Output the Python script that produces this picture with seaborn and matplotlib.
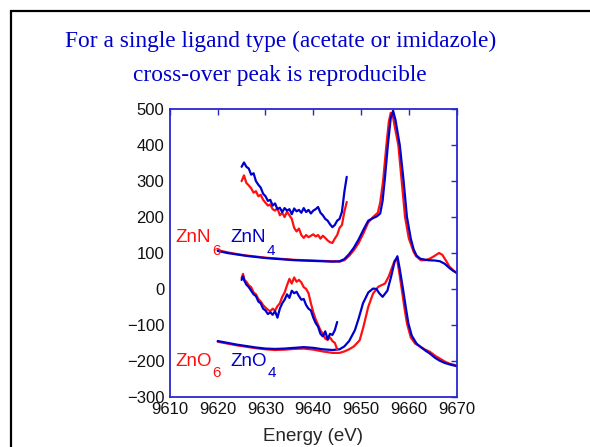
import pandas as pd
import matplotlib.pyplot as plt
import seaborn as sns
from matplotlib.patches import Rectangle

# ZnN main spectra (energy in eV, intensity)
znn_e_red = [9620, 9622, 9624, 9626, 9628, 9630, 9632, 9634, 9636, 9638, 9640, 9642, 9644,
             9645.5, 9646.5, 9647.5, 9648.5, 9649.5, 9650.5, 9651.5, 9652.5, 9653.5, 9654.0,
             9654.6, 9655.3, 9655.8, 9656.2, 9656.6, 9657.0, 9657.8, 9658.5, 9659.2, 9660.0,
             9660.5, 9661.0, 9661.5, 9662.5, 9663.5, 9664.5, 9665.5, 9666.3,
             9667.0, 9667.8, 9668.5, 9669.3, 9670]
znn6_main = [108, 102, 97, 93, 90, 87, 85, 83, 81, 80, 79, 78, 77,
             76, 80, 92, 108, 128, 155, 185, 200, 212, 240,
             300, 400, 465, 490, 485, 455, 400, 300, 200, 140,
             122, 103, 91, 80, 80, 85, 93, 100,
             95, 78, 62, 52, 44]

znn_e_blue = [9620, 9622, 9624, 9626, 9628, 9630, 9632, 9634, 9636, 9638, 9640, 9642, 9644,
              9645.5, 9646.5, 9647.5, 9648.5, 9649.5, 9650.5, 9651.5, 9652.5, 9653.3, 9654.0,
              9654.5, 9655.0, 9655.6, 9656.2, 9656.7, 9657.2, 9658.1, 9658.9, 9659.6, 9660.4,
              9661.0, 9661.6, 9662.4, 9664, 9665.5, 9666.5, 9667.5,
              9668.5, 9669.3, 9670]
znn4_main = [106, 100, 96, 92, 89, 86, 84, 82, 80, 79, 78, 77, 76,
             77, 83, 97, 115, 138, 165, 190, 197, 202, 210,
             245, 310, 400, 475, 496, 470, 400, 300, 200, 140,
             110, 93, 84, 80, 79, 77, 70,
             58, 50, 45]

# ZnO main spectra
zno_e_blue = [9620, 9622, 9624, 9626, 9628, 9630, 9632, 9634, 9636, 9638, 9640, 9642, 9644,
              9645.5, 9646.5, 9647.5, 9648.7, 9649.5, 9650.4, 9651.5, 9652.5, 9653.2, 9653.8,
              9654.5, 9655.5, 9656.3, 9657, 9657.6, 9658.1, 9658.8, 9659.4, 9659.9,
              9660.6, 9661.6, 9662.5, 9663.5, 9664.4, 9665.5, 9666.5, 9667.5, 9668.5, 9670]
zno4_main = [-145, -150, -155, -159, -163, -166, -167, -166, -164, -162, -164, -168, -170,
             -168, -160, -145, -115, -82, -40, -10, 1, 0, -12,
             -22, -5, 35, 75, 91, 55, -3, -55, -96,
             -130, -152, -162, -172, -180, -192, -200, -206, -210, -215]

zno_e_red = [9620, 9622, 9624, 9626, 9628, 9630, 9632, 9634, 9636, 9638, 9640, 9642, 9644,
             9645.5, 9646.5, 9647.5, 9648.5, 9649.7, 9650.5, 9651.5, 9652.5, 9653.6, 9655,
             9655.8, 9656.4, 9657, 9657.5, 9658, 9658.5, 9659.1, 9659.6,
             9660.4, 9661.3, 9662.3, 9663.3, 9664.4, 9665.5, 9666.5, 9667.5, 9668.5, 9670]
zno6_main = [-147, -152, -157, -161, -165, -168, -170, -169, -167, -166, -169, -174, -178,
             -178, -174, -168, -160, -143, -105, -50, -13, 6, 15,
             35, 57, 78, 85, 45, 0, -55, -96,
             -135, -152, -160, -168, -175, -186, -194, -202, -208, -213]

# pre-edge (magnified) traces
pre_e_n = [9625 + 0.5 * i for i in range(45)]
znn4_pre = [340, 352, 340, 335, 318, 322, 300, 290, 282, 265, 258, 245, 248, 232, 238,
            222, 226, 214, 225, 218, 222, 208, 224, 216, 220, 212, 225, 214, 220, 210,
            218, 222, 228, 212, 205, 195, 190, 180, 172, 178, 190, 195, 215, 270, 312]
znn6_pre = [300, 316, 295, 288, 280, 268, 272, 258, 262, 248, 240, 232, 235, 222, 218,
            225, 205, 212, 200, 215, 205, 195, 170, 160, 168, 150, 142, 150, 144, 148,
            152, 146, 150, 140, 148, 142, 135, 130, 128, 140, 150, 170, 178, 215, 242]

pre_e_o = [9625, 9625.3, 9625.6, 9626, 9626.5, 9627, 9627.5, 9628, 9628.5, 9629, 9629.5,
           9630, 9630.5, 9631, 9631.5, 9632, 9632.5, 9633, 9633.5, 9634, 9634.5, 9635,
           9635.5, 9636, 9636.5, 9637, 9637.5, 9638, 9638.5, 9639, 9639.5, 9640, 9640.5,
           9641, 9641.5, 9642, 9642.5, 9643, 9643.5, 9644, 9644.5, 9645]
zno6_pre = [30, 42, 25, 20, 10, 5, -10, -15, -28, -35, -45,
            -52, -58, -62, -55, -60, -48, -40, -22, -10, 10, 28,
            15, 32, 20, 25, 18, 5, 0, -12, -40, -65, -85,
            -100, -115, -125, -138, -142, -135, -145, -150, -168]
zno4_pre = [25, 35, 22, 12, 5, -5, -15, -20, -35, -40, -55,
            -60, -70, -65, -72, -62, -80, -55, -40, -30, -15, -25,
            -5, -12, -8, -20, -30, -28, -45, -55, -60, -80, -95,
            -105, -125, -132, -118, -140, -125, -128, -115, -92]

x_ticks = [9610, 9620, 9630, 9640, 9650, 9660, 9670]
y_ticks = [-300, -200, -100, 0, 100, 200, 300, 400, 500]

RED = '#FF1010'
BLUE = '#0000CC'
AXC = '#2828D0'

sns.set_style("white")
plt.rcParams['font.family'] = ['Liberation Sans', 'DejaVu Sans']

fig = plt.figure(figsize=(5.9, 4.47), dpi=100)
ax = fig.add_axes([0.288, 0.1125, 0.486, 0.643])

traces = [
    (znn_e_red, znn6_main, RED), (znn_e_blue, znn4_main, BLUE),
    (pre_e_n, znn6_pre, RED), (pre_e_n, znn4_pre, BLUE),
    (zno_e_red, zno6_main, RED), (zno_e_blue, zno4_main, BLUE),
    (pre_e_o, zno6_pre, RED), (pre_e_o, zno4_pre, BLUE),
]
for xs, ys, c in traces:
    df = pd.DataFrame({'E': xs, 'I': ys})
    sns.lineplot(data=df, x='E', y='I', color=c, linewidth=1.6, ax=ax,
                 estimator=None, sort=False)

ax.set_xlim(9610, 9670)
ax.set_ylim(-300, 500)
ax.set_xticks(x_ticks)
ax.set_yticks(y_ticks)
ax.set_xlabel('Energy (eV)', fontsize=13.5, labelpad=8)
ax.set_ylabel('')
ax.tick_params(direction='in', length=4, width=1, color=AXC, top=True, right=True,
               labelsize=12, pad=4, labelcolor='#111111')
for sp in ax.spines.values():
    sp.set_color(AXC)
    sp.set_linewidth(1.3)

# sample labels
ax.text(9611.2, 131, 'ZnN', color=RED, fontsize=13.5, va='baseline')
ax.text(9618.9, 95, '6', color=RED, fontsize=11, va='baseline')
ax.text(9622.6, 131, 'ZnN', color=BLUE, fontsize=13.5, va='baseline')
ax.text(9630.2, 95, '4', color=BLUE, fontsize=11, va='baseline')
ax.text(9611.2, -215, 'ZnO', color=RED, fontsize=13.5, va='baseline')
ax.text(9618.9, -244, '6', color=RED, fontsize=11, va='baseline')
ax.text(9622.6, -215, 'ZnO', color=BLUE, fontsize=13.5, va='baseline')
ax.text(9630.4, -244, '4', color=BLUE, fontsize=11, va='baseline')

# slide title
fig.text(0.475, 1 - 46.5 / 447, 'For a single ligand type (acetate or imidazole)',
         ha='center', va='baseline', color='#0000CC', fontsize=16.8, family='Liberation Serif')
fig.text(0.475, 1 - 80.5 / 447, 'cross-over peak is reproducible',
         ha='center', va='baseline', color='#0000CC', fontsize=16.8, family='Liberation Serif')

# slide frame (cut off at right and bottom)
top = 1 - 10.5 / 447
fig.patches.append(Rectangle((10.5 / 590, -0.2), 1.2, top + 0.2,
                             transform=fig.transFigure, fill=False, edgecolor='black',
                             linewidth=1.6))

fig.savefig('out.png', dpi=100)
plt.close(fig)
